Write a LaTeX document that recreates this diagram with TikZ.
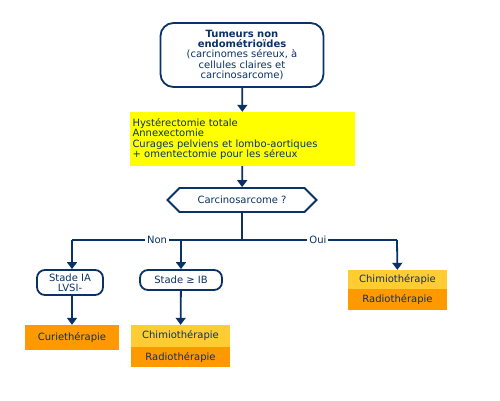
\documentclass[tikz,border=0pt]{standalone}
\usepackage{fontspec}
\setmainfont{DejaVu Sans}
\usetikzlibrary{arrows.meta,shapes.symbols}
\definecolor{navy}{HTML}{0A3266}
\definecolor{jaune}{HTML}{FFFF00}
\definecolor{orangeclair}{HTML}{FFCC33}
\definecolor{orangefonce}{HTML}{FF9900}

\begin{document}
\begin{tikzpicture}[x=1pt, y=-1pt,
    every node/.style={align=center, text=navy, inner sep=0pt, font=\fontsize{10}{10.2}\selectfont},
    link/.style={draw=navy, line width=1.8pt},
    arrow/.style={link, -{Triangle[length=7pt, width=10pt]}},
    roundbox/.style={draw=navy, line width=1.8pt, fill=white},
    treatbox/.style={rectangle, minimum width=99pt}]
    \useasboundingbox (0,0) rectangle (500,400);

    % Top of the tree
    \node[roundbox, rounded corners=13pt, minimum width=163pt, minimum height=64pt] (tumeurs) at (242,55)
        {\textbf{Tumeurs non}\\\textbf{endométrioïdes}\\(carcinomes séreux, à\\cellules claires et\\carcinosarcome)};
    \node[rectangle, fill=jaune, minimum width=225pt, minimum height=54pt, text width=220pt, align=left] (chirurgie) at (242.5,139)
        {Hystérectomie totale\\Annexectomie\\Curages pelviens et lombo-aortiques\\+ omentectomie pour les séreux\\[4pt]};
    \node[roundbox, signal, signal to=west and east, signal pointer angle=90, minimum width=149pt, minimum height=24pt] (carcino) at (242,200)
        {Carcinosarcome ?};

    % Branch points
    \coordinate (split) at (242,240);
    \coordinate (gauche) at (72,240);
    \coordinate (milieu) at (181,240);
    \coordinate (droite) at (397,240);

    % Stades and treatments
    \node[roundbox, rounded corners=8pt, minimum width=66pt, minimum height=25pt] (stadeA) at (70,282.5) {Stade IA\\LVSI-};
    \node[roundbox, rounded corners=8pt, minimum width=82pt, minimum height=20pt] (stadeB) at (181,280) {Stade ≥ IB};
    \node[treatbox, fill=orangefonce, minimum width=94pt, minimum height=25pt] (curie) at (72,337.5) {Curiethérapie};
    \node[treatbox, fill=orangeclair, minimum height=22pt] (chimioB) at (180.5,336) {Chimiothérapie};
    \node[treatbox, fill=orangefonce, minimum height=20pt, anchor=north] (radioB) at (chimioB.south) {Radiothérapie};
    \node[treatbox, fill=orangeclair, minimum height=19pt] (chimioD) at (397.5,279.5) {Chimiothérapie};
    \node[treatbox, fill=orangefonce, minimum height=21pt, anchor=north] (radioD) at (chimioD.south) {Radiothérapie};

    % Connectors
    \draw[arrow] (tumeurs) -- (chirurgie);
    \draw[arrow] (chirurgie) -- (carcino);
    \draw[link] (carcino.south) -- (split);
    \draw[link] (gauche) -- (split) node[pos=0.5, fill=white, inner xsep=2pt, inner ysep=1pt] {Non};
    \draw[link] (split) -- (droite) node[pos=0.49, fill=white, inner xsep=2pt, inner ysep=1pt] {Oui};
    \draw[arrow] (gauche) -- (stadeA.north -| gauche);
    \draw[arrow] (milieu) -- (stadeB);
    \draw[arrow] (droite) -- (chimioD);
    \draw[arrow] (stadeA.south -| curie) -- (curie);
    \draw[arrow] (stadeB) -- (chimioB);
\end{tikzpicture}
\end{document}
